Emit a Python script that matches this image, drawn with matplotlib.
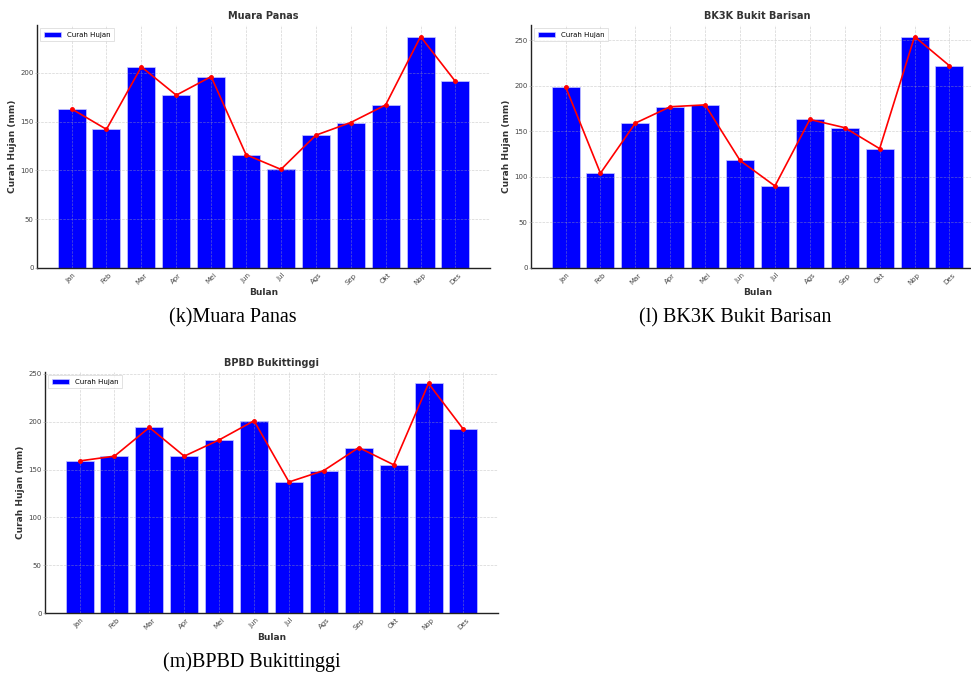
import numpy as np
import matplotlib
matplotlib.use('Agg')
import matplotlib.pyplot as plt

bulan = ['Jan', 'Feb', 'Mar', 'Apr', 'Mei', 'Jun', 'Jul', 'Ags', 'Sep', 'Okt', 'Nop', 'Des']

muara_panas = [163, 142, 206, 177, 196, 116, 101, 136, 149, 167, 237, 191]
bk3k = [199, 104, 159, 177, 179, 118, 90, 163, 154, 131, 254, 222]
bpbd = [159, 164, 194, 164, 181, 201, 137, 149, 173, 155, 240, 192]

W, H = 971, 673
fig = plt.figure(figsize=(W / 100, H / 100), dpi=100)

# axes placement in pixels: left, top, width, height
def make_ax(left, top, width, height):
    return fig.add_axes([left / W, 1 - (top + height) / H, width / W, height / H])

def draw(ax, values, title):
    x = np.arange(len(bulan))
    ax.bar(x, values, width=0.8, color='#0000ff', edgecolor='#c8c8ff',
           linewidth=0.5, label='Curah Hujan', zorder=2)
    ax.plot(x, values, color='#ff0000', marker='o', markersize=2.5,
            linewidth=1.2, zorder=4)
    ax.set_xticks(x)
    ax.set_xticklabels(bulan, rotation=45, fontsize=5, color='#444444')
    ax.tick_params(axis='y', labelsize=5, labelcolor='#444444', length=1.5,
                   color='#aaaaaa', width=0.5, pad=1)
    ax.tick_params(axis='x', length=0, pad=3)
    ax.set_title(title, fontsize=7, fontweight='bold', color='#333333', pad=4)
    ax.set_xlabel('Bulan', fontsize=6.5, fontweight='bold', color='#333333', labelpad=1)
    ax.set_ylabel('Curah Hujan (mm)', fontsize=6.5, fontweight='bold', color='#333333', labelpad=2)
    ax.grid(True, linestyle='--', linewidth=0.5, color='#aaaaaa', alpha=0.5, zorder=3)
    ax.set_axisbelow(False)
    for s in ['top', 'right']:
        ax.spines[s].set_visible(False)
    for s in ['left', 'bottom']:
        ax.spines[s].set_linewidth(1.0)
        ax.spines[s].set_color('#222222')
    leg = ax.legend(loc='upper left', fontsize=5, frameon=True, fancybox=False,
                    handlelength=2.5, borderpad=0.5)
    leg.get_frame().set_linewidth(0.5)
    leg.get_frame().set_edgecolor('#cccccc')

ax1 = make_ax(37, 25, 453, 243)
draw(ax1, muara_panas, 'Muara Panas')

ax2 = make_ax(531, 25, 453, 243)
draw(ax2, bk3k, 'BK3K Bukit Barisan')

ax3 = make_ax(45, 372, 453, 241)
draw(ax3, bpbd, 'BPBD Bukittinggi')

cap = dict(fontsize=14.5, family='Liberation Serif', ha='center', va='center')
fig.text(233 / W, 1 - 318 / H, '(k)Muara Panas', **cap)
fig.text(735 / W, 1 - 318 / H, '(l) BK3K Bukit Barisan', **cap)
fig.text(252 / W, 1 - 662 / H, '(m)BPBD Bukittinggi', **cap)

fig.savefig('out.png', dpi=100)
